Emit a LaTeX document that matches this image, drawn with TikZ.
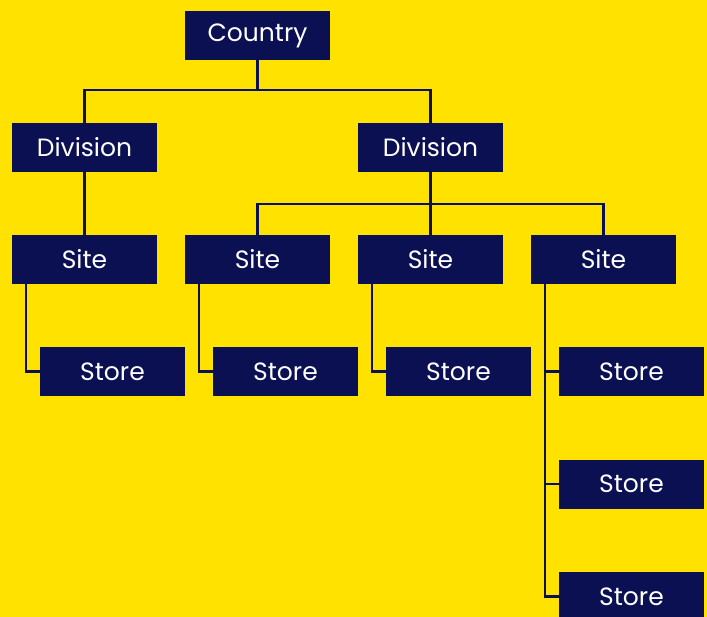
\documentclass[tikz,border=0pt]{standalone}
\usepackage{fontspec}
\setmainfont{Poppins}
\usepackage{tikz}
\definecolor{jaune}{RGB}{255,226,0}
\definecolor{marine}{RGB}{11,16,82}

\begin{document}
\begin{tikzpicture}[x=1pt,y=-1pt]
	\tikzset{boite/.style={rectangle, fill=marine, text=white, minimum width=145pt, minimum height=49pt, inner sep=0pt, outer sep=0pt, font=\fontsize{25}{30}\selectfont},
	lien/.style={draw=marine, line width=2.2pt}};

	\clip (0,0) rectangle (707,617);
	\fill[jaune] (0,0) rectangle (707,617);

	\node[boite] (pays) at (257.5, 35.5) {Country};
	\node[boite] (div1) at (84.5, 147.5) {Division};
	\node[boite] (div2) at (430.5, 147.5) {Division};

	\foreach \i in {1, 2, 3, 4}{
		\node[boite] (site\i) at (-88.5+173*\i, 259.5) {Site};
		\node[boite] (mag\i) at (-60.5+173*\i, 371.5) {Store};
	}
	\node[boite] (mag5) at (631.5, 484) {Store};
	\node[boite] (mag6) at (631.5, 596.5) {Store};

	\coordinate (bus0) at (257.5, 90);
	\coordinate (bus1) at (430.5, 204);

	\draw[lien] (pays.south) -- (bus0);
	\draw[lien] (bus0) -| (div1.north);
	\draw[lien] (bus0) -| (div2.north);
	\draw[lien] (div1.south) -- (site1.north);
	\draw[lien] (div2.south) -- (bus1);
	\draw[lien] (bus1) -| (site2.north);
	\draw[lien] (bus1) -- (site3.north);
	\draw[lien] (bus1) -| (site4.north);

	\foreach \i in {1, 2, 3, 4}{
		\draw[lien] ([xshift=14pt]site\i.south west) |- (mag\i.west);
	}
	\draw[lien] ([xshift=14pt]site4.south west) |- (mag5.west);
	\draw[lien] ([xshift=14pt]site4.south west) |- (mag6.west);
\end{tikzpicture}
\end{document}
